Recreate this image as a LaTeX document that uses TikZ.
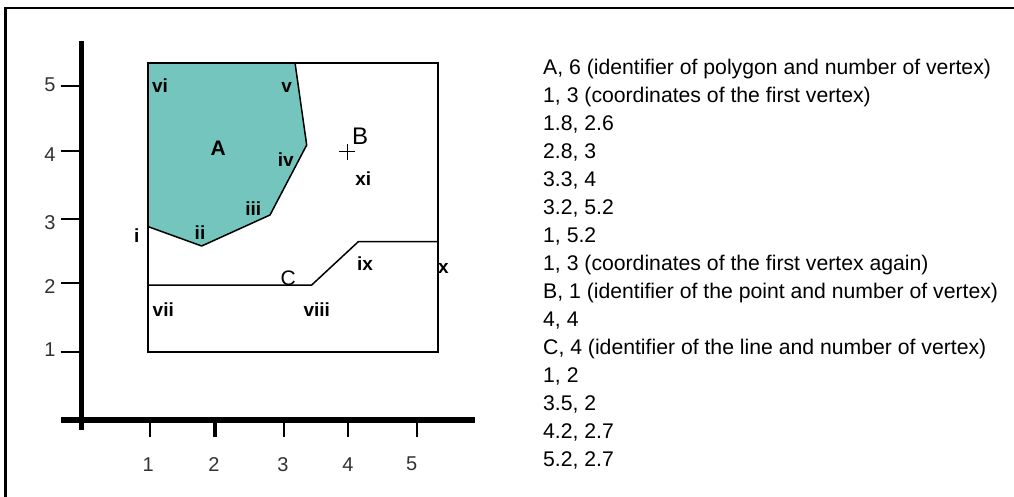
\documentclass[tikz,border=0pt]{standalone}
\usepackage{fontspec}
\usetikzlibrary{calc}
\setmainfont{Liberation Sans}
\definecolor{teal1}{RGB}{117,197,191}
\definecolor{axlab}{RGB}{50,50,50}
\begin{document}
\begin{tikzpicture}[x=1pt,y=-1pt,
  lst/.style={anchor=base west,inner sep=0pt,font=\fontsize{21.2}{24}\selectfont,text=black},
  num/.style={inner sep=0pt,font=\fontsize{20}{24}\selectfont,text=axlab},
  vlab/.style={inner sep=0pt,font=\bfseries\fontsize{19}{20}\selectfont,text=black},
  edge/.style={draw=black,line width=1.5pt,line join=round},
  tick/.style={draw=black,line width=1.8pt}]
\useasboundingbox (0,0) rectangle (1014,497);
% frame
\coordinate (f1) at (5.3,497);
\coordinate (f2) at (5.3,8);
\coordinate (f3) at (1014,8);
\draw[line width=2.6pt,line cap=rect] (f1) -- (f2) -- (f3);
% axes
\coordinate (va) at (81.7,41);
\coordinate (vb) at (81.7,430);
\coordinate (ha) at (61,420);
\coordinate (hb) at (475,420);
\draw[line width=5pt] (va) -- (vb);
\draw[line width=6pt] (ha) -- (hb);
% x ticks
\foreach \x/\w in {150/1.8,215/4,284/1.8,348.3/1.8,416.7/1.8}{
  \draw[line width=\w pt] (\x,423) -- (\x,437);}
\foreach \x/\t in {148.3/1,214/2,283/3,348/4,411.7/5}{
  \node[num] at (\x,464.2) {\t};}
% y ticks
\foreach \y/\t/\ly in {86/5/85,150.7/4/155,219.3/3/223,282.7/2/286.7,351.7/1/350}{
  \draw[line width=1.8pt] (60.7,\y) -- (80,\y);
  \node[num] at (50,\ly) {\t};}
% polygon A
\coordinate (pi) at (148.3,226.7);
\coordinate (pii) at (201.7,246);
\coordinate (piii) at (270,215);
\coordinate (piv) at (306.7,145);
\coordinate (pv) at (295,62.7);
\coordinate (pvi) at (148.3,62.7);
\fill[teal1] (pi) -- (pii) -- (piii) -- (piv) -- (pv) -- (pvi) -- cycle;
\draw[edge] (pi) -- (pii) -- (piii) -- (piv) -- (pv);
% rectangle
\coordinate (r1) at (148.3,62.7);
\coordinate (r2) at (438.3,351.7);
\draw[line width=1.8pt] (r1) rectangle (r2);
% line C
\coordinate (c1) at (148.3,285);
\coordinate (c2) at (311.7,285);
\coordinate (c3) at (358.3,241.7);
\coordinate (c4) at (438.3,241.7);
\draw[edge] (c1) -- (c2) -- (c3) -- (c4);
% point B
\coordinate (bp) at (347.3,151.7);
\draw[line width=1.3pt] ($(bp)+(-8,0)$) -- ($(bp)+(8,0)$);
\draw[line width=1.3pt] ($(bp)+(0,-8)$) -- ($(bp)+(0,8)$);
% labels
\node[vlab] (lvi) at (160,86) {vi};
\node[vlab] (lv) at (286.7,87) {v};
\node[vlab,font=\bfseries\fontsize{21}{22}\selectfont] (lA) at (218.3,148.3) {A};
\node[vlab] (liv) at (285.7,159.5) {iv};
\node[inner sep=0pt,font=\fontsize{24}{26}\selectfont] (lB) at (360,136) {B};
\node[vlab] (lxi) at (363.3,179) {xi};
\node[vlab] (liii) at (253.3,209) {iii};
\node[vlab] (lii) at (200,232.5) {ii};
\node[vlab] (li) at (136.7,235.5) {i};
\node[inner sep=0pt,font=\fontsize{21}{24}\selectfont] (lC) at (288.3,278.3) {C};
\node[vlab] (lix) at (365,263.5) {ix};
\node[vlab] (lx) at (443.3,268.8) {x};
\node[vlab] (lvii) at (163.3,309.5) {vii};
\node[vlab] (lviii) at (316.7,309.5) {viii};
% list
\foreach \t [count=\k from 0] in {
  {A, 6 (identifier of polygon and number of vertex)},
  {1, 3 (coordinates of the first vertex)},
  {1.8, 2.6},
  {2.8, 3},
  {3.3, 4},
  {3.2, 5.2},
  {1, 5.2},
  {1, 3 (coordinates of the first vertex again)},
  {B, 1 (identifier of the point and number of vertex)},
  {4, 4},
  {C, 4 (identifier of the line and number of vertex)},
  {1, 2},
  {3.5, 2},
  {4.2, 2.7},
  {5.2, 2.7}}{
  \node[lst] (t\k) at (543,75+27.98*\k) {\t};}
\end{tikzpicture}
\end{document}
